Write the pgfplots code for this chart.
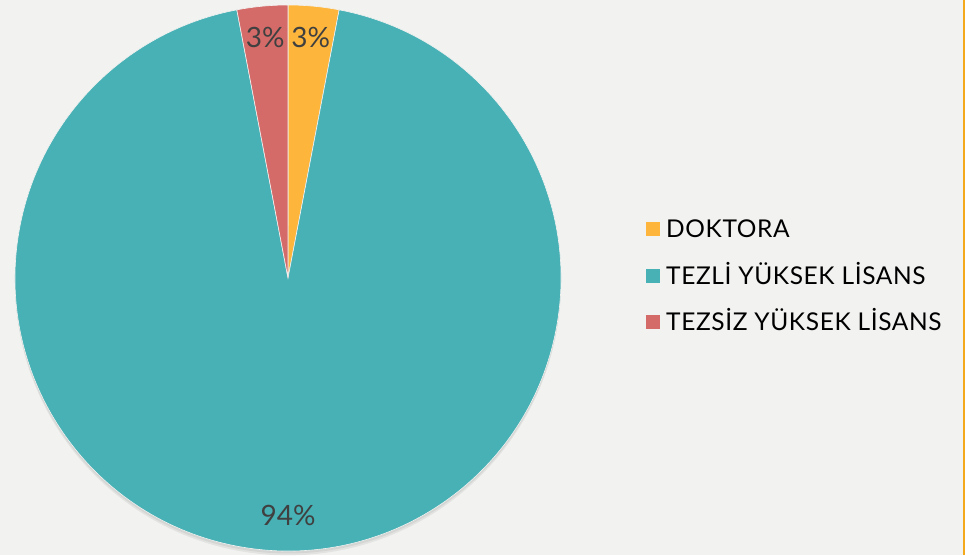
\documentclass[border=0pt]{standalone}
\usepackage{pgfplots}
\pgfplotsset{compat=1.18}
\usepackage{pgfplotstable}
\usepackage{fontspec}
\setmainfont{Lato}
\definecolor{bg}{HTML}{F2F2F1}
\definecolor{cOr}{HTML}{FDB63B}
\definecolor{cTe}{HTML}{47B1B5}
\definecolor{cRe}{HTML}{D46B69}
\definecolor{lab}{HTML}{404040}
\definecolor{edge}{HTML}{F4A81C}
\pgfplotstableread{
name value
DOKTORA 3
TEZLI 94
TEZSIZ 3
}\piedata
\begin{document}
\begin{tikzpicture}[x=1pt,y=1pt]
\fill[bg] (0,0) rectangle (965,555);
\fill[edge] (962.5,0) rectangle (965,555);
\useasboundingbox (0,0) rectangle (965,555);
\pgfplotstablegetelem{0}{value}\of\piedata \let\vA\pgfplotsretval
\pgfplotstablegetelem{1}{value}\of\piedata \let\vB\pgfplotsretval
\pgfplotstablegetelem{2}{value}\of\piedata \let\vC\pgfplotsretval
\pgfmathsetmacro\tot{\vA+\vB+\vC}
\pgfmathsetmacro\aA{90}
\pgfmathsetmacro\aB{\aA-(\vA/\tot)*360}
\pgfmathsetmacro\aC{\aB-(\vB/\tot)*360}
\pgfmathsetmacro\aD{\aC-(\vC/\tot)*360}
\pgfmathsetmacro\mA{(\aA+\aB)/2}
\pgfmathsetmacro\mB{(\aB+\aC)/2}
\pgfmathsetmacro\mC{(\aC+\aD)/2}
\begin{axis}[
  at={(288pt,277pt)}, anchor=center,
  scale only axis, width=546pt, height=546pt,
  xmin=-1, xmax=1, ymin=-1, ymax=1,
  hide axis, clip=false,
  legend image code/.code={\fill[#1, draw=none] (0pt,-7pt) rectangle (14pt,7pt);},
  legend style={at={(axis description cs:1.1557,0.5045)}, anchor=west,
    draw=none, fill=none, inner sep=0pt,
    font=\fontsize{24.5}{28}\selectfont\addfontfeatures{LetterSpace=2.5},
    text=black,
    nodes={inner sep=0pt, text height=17pt, text depth=0pt, anchor=west},
    row sep=29.5pt, column sep=0pt,
    /tikz/every odd column/.style={column sep=6pt}},
  legend cell align=left,
]
\addlegendimage{fill=cOr}
\addlegendentry{DOKTORA}
\addlegendimage{fill=cTe}
\addlegendentry{TEZLİ YÜKSEK LİSANS}
\addlegendimage{fill=cRe}
\addlegendentry{TEZSİZ YÜKSEK LİSANS}
\fill[black, opacity=0.06] (axis cs:0,-0.016) circle[radius=273pt];
\fill[black, opacity=0.06] (axis cs:0,-0.009) circle[radius=273pt];
\fill[cOr, draw=bg, line width=0.6pt] (axis cs:0,0) -- (axis cs:{cos(\aA)},{sin(\aA)}) arc[start angle=\aA, end angle=\aB, radius=273pt] -- cycle;
\fill[cTe, draw=bg, line width=0.6pt] (axis cs:0,0) -- (axis cs:{cos(\aB)},{sin(\aB)}) arc[start angle=\aB, end angle=\aC, radius=273pt] -- cycle;
\fill[cRe, draw=bg, line width=0.6pt] (axis cs:0,0) -- (axis cs:{cos(\aC)},{sin(\aC)}) arc[start angle=\aC, end angle=\aD, radius=273pt] -- cycle;
\node[text=lab, font=\fontsize{28}{34}\selectfont] at (axis cs:{0.885*cos(\mA)},{0.885*sin(\mA)}) {\vA\%};
\node[text=lab, font=\fontsize{28}{34}\selectfont] at (axis cs:{0.87*cos(\mB)},{0.87*sin(\mB)}) {\vB\%};
\node[text=lab, font=\fontsize{28}{34}\selectfont] at (axis cs:{0.885*cos(\mC)},{0.885*sin(\mC)}) {\vC\%};
\end{axis}
\end{tikzpicture}
\end{document}
